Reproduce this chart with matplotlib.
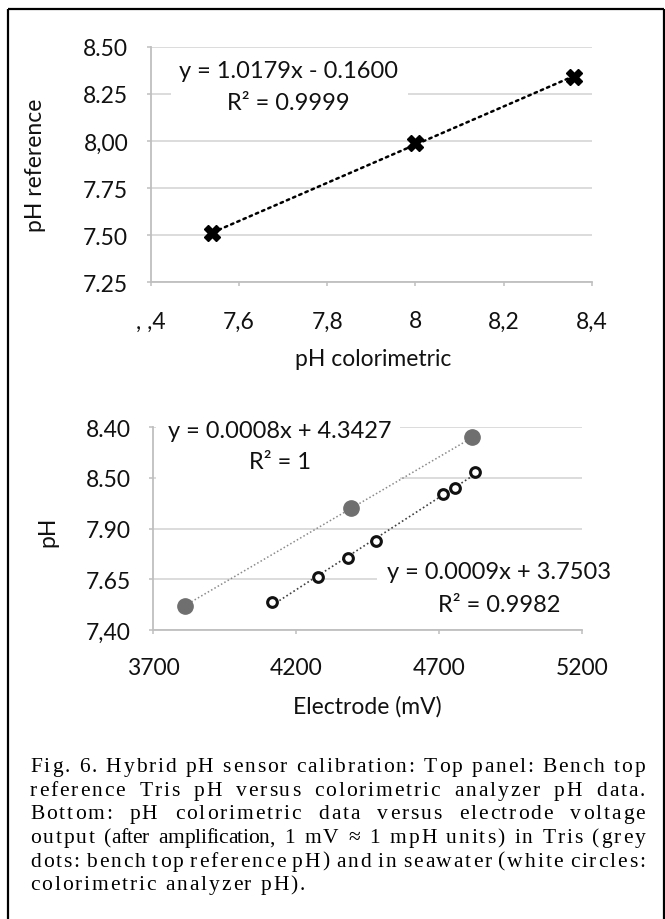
import numpy as np
import matplotlib
matplotlib.use("Agg")
import matplotlib.pyplot as plt
from matplotlib.patches import Rectangle
from matplotlib.lines import Line2D
from matplotlib import font_manager as fm
from matplotlib.ft2font import FT2Font

# ---------------- data ----------------
top_x = [7.54, 8.00, 8.36]
top_y = [7.51, 7.99, 8.34]
top_xticks = [7.4, 7.6, 7.8, 8.0, 8.2, 8.4]
top_xticklabels = [", ,4", "7,6", "7,8", "8", "8,2", "8,4"]
top_yticks = [7.25, 7.50, 7.75, 8.00, 8.25, 8.50]
top_yticklabels = ["7.25", "7.50", "7.75", "8,00", "8.25", "8.50"]
top_eq = ["y = 1.0179x - 0.1600", "R² = 0.9999"]

tris_mv = [3810, 4393, 4817]
tris_ph = [7.52, 8.00, 8.35]
sea_mv = [4117, 4276, 4381, 4480, 4715, 4756, 4826]
sea_ph = [7.54, 7.66, 7.755, 7.84, 8.07, 8.10, 8.18]
bot_xticks = [3700, 4200, 4700, 5200]
bot_xticklabels = ["3700", "4200", "4700", "5200"]
bot_yticks = [7.40, 7.65, 7.90, 8.15, 8.40]
bot_yticklabels = ["7,40", "7.65", "7.90", "8.50", "8.40"]
tris_eq = ["y = 0.0008x + 4.3427", "R² = 1"]
sea_eq = ["y = 0.0009x + 3.7503", "R² = 0.9982"]

caption_lines = [
    "Fig. 6. Hybrid pH sensor calibration: Top panel: Bench top",
    "reference Tris pH versus colorimetric analyzer pH data.",
    "Bottom: pH colorimetric data versus electrode voltage",
    "output (after amplification, 1 mV \u2248 1 mpH units) in Tris (grey",
    "dots: bench top reference pH) and in seawater (white circles:",
    "colorimetric analyzer pH).",
]
condensed_words = ["(after", "amplification,"]

# ---------------- style ----------------
W, H = 665, 920
SANS = ["Lato", "DejaVu Sans"]
SERIF = ["Liberation Serif", "DejaVu Serif"]
GRID = "#d9d9d9"
AXC = "#bfbfbf"
TXT = "#111111"
TICK_FS = 16.5
LAB_FS = 16.5
EQ_FS = 17

fig = plt.figure(figsize=(W / 100, H / 100), dpi=100)
fig.patch.set_facecolor("white")


def ax_rect(l, r, t, b):
    return [l / W, 1 - b / H, (r - l) / W, (b - t) / H]


def style_axes(ax, xpad, ypad):
    ax.set_axisbelow(True)
    ax.yaxis.grid(True, color=GRID, lw=1.3, zorder=0.5)
    ax.xaxis.grid(False)
    for s in ["top", "right"]:
        ax.spines[s].set_visible(False)
    for s in ["left", "bottom"]:
        ax.spines[s].set_color(AXC)
        ax.spines[s].set_linewidth(1.3)
        ax.spines[s].set_zorder(2.5)
    ax.tick_params(axis="both", direction="out", length=3.2, width=1.1, color=AXC,
                   labelcolor=TXT, labelsize=TICK_FS)
    ax.tick_params(axis="x", pad=xpad)
    ax.tick_params(axis="y", pad=ypad)
    for lab in ax.get_xticklabels() + ax.get_yticklabels():
        lab.set_family(SANS)


# ---------------- top panel ----------------
ax1 = fig.add_axes(ax_rect(150.7, 592, 47.7, 283.3))
ax1.set_xlim(7.4, 8.4)
ax1.set_ylim(7.25, 8.5)
ax1.set_xticks(top_xticks)
ax1.set_xticklabels(top_xticklabels)
ax1.set_yticks(top_yticks)
ax1.set_yticklabels(top_yticklabels)
style_axes(ax1, xpad=17, ypad=13)

c1 = np.polyfit(top_x, top_y, 1)
xx = np.array([min(top_x), max(top_x)])
ax1.plot(xx, np.polyval(c1, xx), color="black", lw=1.8, ls=(0, (1, 1.7)),
         dash_capstyle="round", zorder=2)
ax1.plot(top_x, top_y, ls="none", marker="X", ms=11, mfc="black", mec="black",
         mew=1, zorder=3)

ax1.add_patch(Rectangle((0.046, 0.714), 0.537, 0.232, transform=ax1.transAxes,
                        facecolor="white", edgecolor="none", zorder=1))
ax1.text(0.312, 0.897, top_eq[0], transform=ax1.transAxes, ha="center", va="center",
         fontsize=EQ_FS, family=SANS, color=TXT, zorder=4)
ax1.text(0.312, 0.763, top_eq[1], transform=ax1.transAxes, ha="center", va="center",
         fontsize=EQ_FS, family=SANS, color=TXT, zorder=4)

fig.text(36 / W, 1 - 165 / H, "pH reference", rotation=90, ha="center", va="center",
         fontsize=LAB_FS, family=SANS, color=TXT)
fig.text(372.8 / W, 1 - 360 / H, "pH colorimetric", ha="center", va="center",
         fontsize=LAB_FS, family=SANS, color=TXT)

# ---------------- bottom panel ----------------
ax2 = fig.add_axes(ax_rect(153.3, 581.7, 428.3, 631))
ax2.set_xlim(3700, 5200)
ax2.set_ylim(7.40, 8.40)
ax2.set_xticks(bot_xticks)
ax2.set_xticklabels(bot_xticklabels)
ax2.set_yticks(bot_yticks)
ax2.set_yticklabels(bot_yticklabels)
style_axes(ax2, xpad=16, ypad=13)

c2 = np.polyfit(tris_mv, tris_ph, 1)
xx = np.array([min(tris_mv), max(tris_mv)])
ax2.plot(xx, np.polyval(c2, xx), color="#8a8a8a", lw=1.1, ls=(0, (1, 1.5)), zorder=2)
c3 = np.polyfit(sea_mv, sea_ph, 1)
xx = np.array([min(sea_mv), max(sea_mv)])
ax2.plot(xx, np.polyval(c3, xx), color="#404040", lw=1.2, ls=(0, (1, 1.5)), zorder=2)

ax2.plot(tris_mv, tris_ph, ls="none", marker="o", ms=11, mfc="#6f6f6f", mec="#6f6f6f",
         zorder=3)
ax2.plot(sea_mv, sea_ph, ls="none", marker="o", ms=7, mfc="white", mec="#111111",
         mew=2.2, zorder=3)

ax2.add_patch(Rectangle((0.006, 0.725), 0.569, 0.336, transform=ax2.transAxes,
                        facecolor="white", edgecolor="none", zorder=1, clip_on=False))
ax2.add_patch(Rectangle((0.523, 0.064), 0.56, 0.296, transform=ax2.transAxes,
                        facecolor="white", edgecolor="none", zorder=1, clip_on=False))
ax2.text(0.2946, 0.983, tris_eq[0], transform=ax2.transAxes, ha="center", va="center",
         fontsize=EQ_FS, family=SANS, color=TXT, zorder=4, clip_on=False)
ax2.text(0.2946, 0.830, tris_eq[1], transform=ax2.transAxes, ha="center", va="center",
         fontsize=EQ_FS, family=SANS, color=TXT, zorder=4, clip_on=False)
ax2.text(0.8065, 0.2876, sea_eq[0], transform=ax2.transAxes, ha="center", va="center",
         fontsize=EQ_FS, family=SANS, color=TXT, zorder=4, clip_on=False)
ax2.text(0.8065, 0.128, sea_eq[1], transform=ax2.transAxes, ha="center", va="center",
         fontsize=EQ_FS, family=SANS, color=TXT, zorder=4, clip_on=False)

fig.text(47.7 / W, 1 - 531.7 / H, "pH", rotation=90, ha="center", va="center",
         fontsize=LAB_FS, family=SANS, color=TXT)
fig.text(367 / W, 1 - 707 / H, "Electrode (mV)", ha="center", va="center",
         fontsize=LAB_FS, family=SANS, color=TXT)

# ---------------- frame ----------------
fk = dict(transform=fig.transFigure, color="black", lw=1.6, solid_capstyle="butt")
fig.add_artist(Line2D([8 / W, 8 / W], [1 - 9.5 / H, 0], **fk))
fig.add_artist(Line2D([8 / W, 664 / W], [1 - 10 / H, 1 - 10 / H], **fk))
fig.add_artist(Line2D([664 / W, 664 / W], [1 - 9.5 / H, 0], **fk))

# ---------------- caption (letter-spaced, justified) ----------------
CAP_FS = 15.5
TRACK = 1.9
font_path = fm.findfont(fm.FontProperties(family=SERIF))
ft = FT2Font(font_path)
ft.set_size(CAP_FS, 100)


def adv(ch):
    try:
        g = ft.load_char(ord(ch))
        return g.linearHoriAdvance / 65536.0
    except Exception:
        return CAP_FS * 0.5


def word_layout(word):
    tr = -0.3 if word in condensed_words else TRACK
    offs, x = [], 0.0
    for ch in word:
        offs.append(x)
        x += adv(ch) + tr
    return offs, x - tr


L, R = 30, 645
y0, dy = 765, 23.7
space_w = adv(" ")
for i, line in enumerate(caption_lines):
    words = line.split(" ")
    layouts = [word_layout(w) for w in words]
    total = sum(lay[1] for lay in layouts)
    if i < len(caption_lines) - 1 and len(words) > 1:
        gap = (R - L - total) / (len(words) - 1)
    else:
        gap = space_w + 2 * TRACK
    x = L
    yb = y0 + i * dy + 7
    for w, (offs, wd) in zip(words, layouts):
        for ch, o in zip(w, offs):
            fig.text((x + o) / W, 1 - yb / H, ch, fontsize=CAP_FS, family=SERIF,
                     color="black", ha="left", va="baseline")
        x += wd + gap

fig.savefig("out.png", dpi=100)
